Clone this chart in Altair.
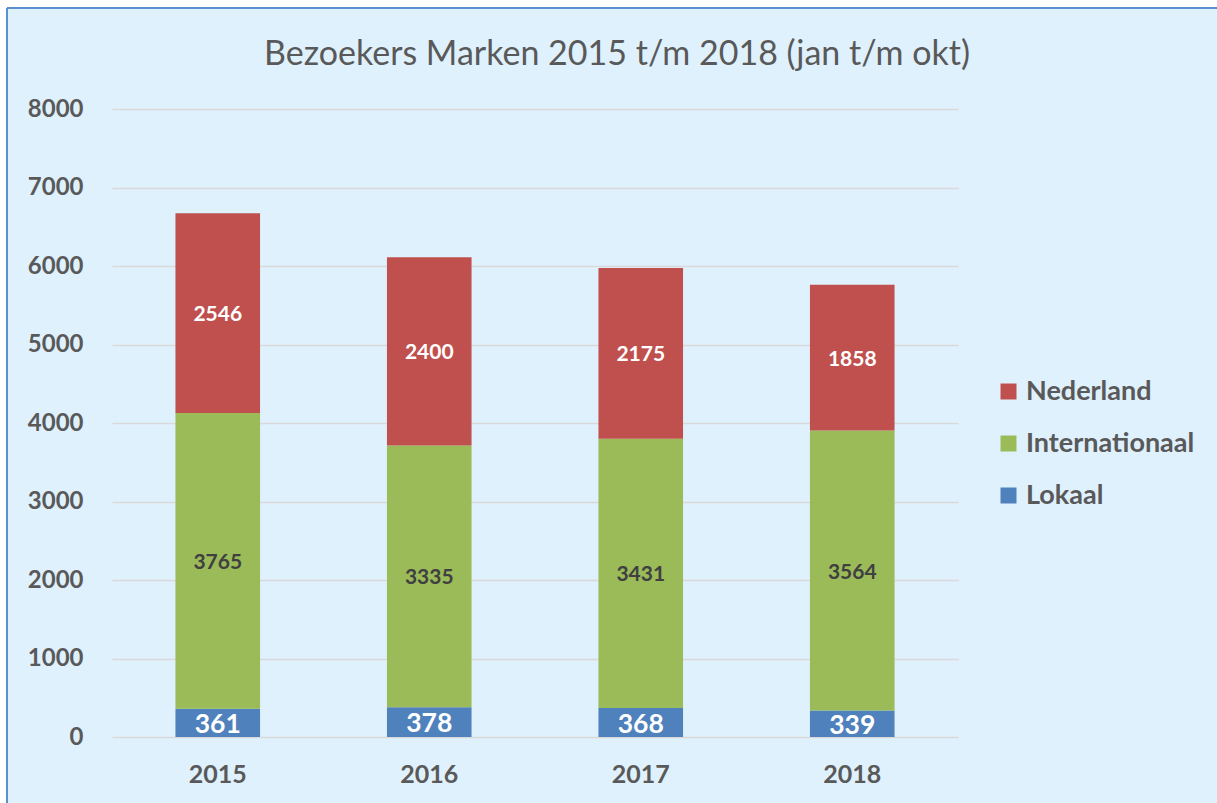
import altair as alt
import pandas as pd

years = ["2015", "2016", "2017", "2018"]
series = ["Lokaal", "Internationaal", "Nederland"]
lokaal = [361, 378, 368, 339]
internationaal = [3765, 3335, 3431, 3564]
nederland = [2546, 2400, 2175, 1858]
colors = ["#4F81BD", "#9BBB59", "#C0504D"]
legend_order = ["Nederland", "Internationaal", "Lokaal"]
title_text = "Bezoekers Marken 2015 t/m 2018 (jan t/m okt)"

rows = []
for i, y in enumerate(years):
    for k, (s, vals) in enumerate(zip(series, [lokaal, internationaal, nederland])):
        rows.append({"year": y, "serie": s, "value": vals[i], "ord": k})
df = pd.DataFrame(rows)

FONT = "Lato"
GRAY = "#595959"
BG = "#DFF1FD"

base = alt.Chart(df).transform_stack(
    stack="value", as_=["v0", "v1"], groupby=["year"], sort=[{"field": "ord", "order": "ascending"}]
).transform_calculate(mid="(datum.v0 + datum.v1) / 2")

xenc = alt.X("year:N", sort=years, title=None,
             scale=alt.Scale(paddingInner=0.6, paddingOuter=0.3),
             axis=alt.Axis(labelAngle=0, labelFont=FONT, labelFontSize=25, labelFontWeight="bold",
                           labelColor=GRAY, ticks=False, domain=False, labelPadding=25, grid=False))

bars = base.mark_bar().encode(
    x=xenc,
    y=alt.Y("v0:Q", scale=alt.Scale(domain=[0, 8000]), title=None,
            axis=alt.Axis(values=list(range(0, 8001, 1000)), format="d", labelFont=FONT, labelFontSize=24,
                          labelFontWeight="bold", labelColor=GRAY, ticks=False, domain=False,
                          labelPadding=29, gridColor="#D9D9D9", gridWidth=1.5)),
    y2="v1:Q",
    color=alt.Color("serie:N", scale=alt.Scale(domain=series, range=colors),
                    sort=legend_order,
                    legend=alt.Legend(title=None, orient="none", legendX=883, legendY=269,
                                      values=legend_order, labelLimit=400,
                                      labelFont=FONT, labelFontSize=27, labelFontWeight="bold",
                                      labelColor=GRAY, symbolType="square", symbolSize=256,
                                      symbolStrokeWidth=0, rowPadding=24, labelOffset=4)),
)

def labels(name, color, size):
    return base.transform_filter(alt.datum.serie == name).mark_text(
        font=FONT, fontWeight="bold", fontSize=size, color=color, baseline="middle", dy=2
    ).encode(x=alt.X("year:N", sort=years), y=alt.Y("mid:Q"), text="value:Q")

lab_l = labels("Lokaal", "white", 26.5)
lab_i = labels("Internationaal", "#404040", 21)
lab_n = labels("Nederland", "white", 21)

one = alt.Chart(pd.DataFrame({"a": [0]}))
title = one.mark_text(font=FONT, fontSize=34, color=GRAY, baseline="middle", align="center").encode(
    x=alt.value(505), y=alt.value(-54), text=alt.value(title_text))
white_left = one.mark_rect(color="white").encode(
    x=alt.value(-112), x2=alt.value(-106), y=alt.value(-109), y2=alt.value(694))
white_top = one.mark_rect(color="white").encode(
    x=alt.value(-112), x2=alt.value(1105), y=alt.value(-109), y2=alt.value(-101))
border_left = one.mark_rule(color="#5B8FCF", strokeWidth=2).encode(
    x=alt.value(-105), y=alt.value(-101), y2=alt.value(694))
border_top = one.mark_rule(color="#5B8FCF", strokeWidth=2).encode(
    x=alt.value(-105), x2=alt.value(1105), y=alt.value(-101))

chart = alt.layer(white_left, white_top, border_left, border_top, bars, lab_l, lab_i, lab_n, title).properties(
    width=846, height=628,
    autosize=alt.AutoSizeParams(type="none"),
    padding={"left": 112, "top": 109, "right": 259, "bottom": 66},
    background=BG,
).configure_view(stroke=None)

chart.save("out.html", embed_options={"renderer": "svg", "actions": False})
